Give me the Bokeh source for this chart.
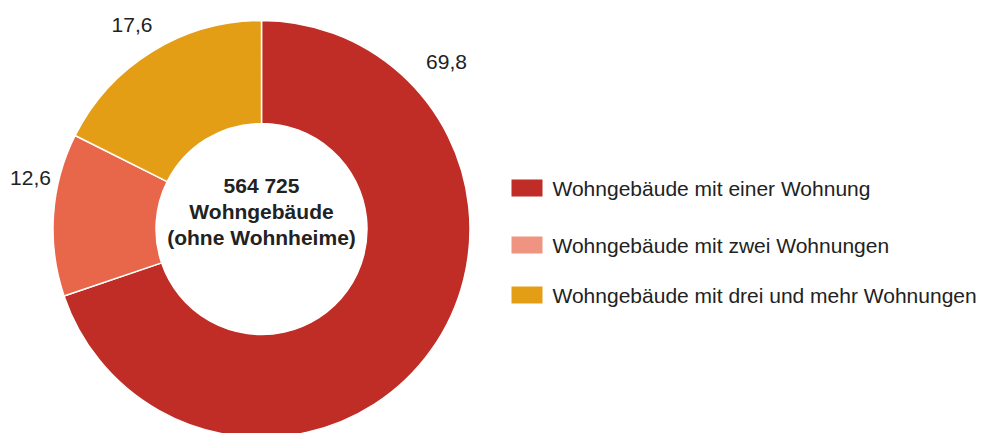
import math
from bokeh.plotting import figure
from bokeh.models import ColumnDataSource, Range1d
from bokeh.core.properties import value
from bokeh.embed import file_html
from bokeh.resources import INLINE

# ---- data ----
categories = ["Wohngebäude mit einer Wohnung",
              "Wohngebäude mit zwei Wohnungen",
              "Wohngebäude mit drei und mehr Wohnungen"]
shares = [69.8, 12.6, 17.6]
share_labels = ["69,8", "12,6", "17,6"]
center_lines = ["564 725", "Wohngebäude", "(ohne Wohnheime)"]

# ---- styles / layout ----
slice_colors = ["#BF2D26", "#E8674A", "#E39E16"]
legend_colors = ["#BF2D26", "#EF9480", "#E39E16"]
W, H = 985, 433
label_pos = [(446, H - 61.5), (30, H - 177), (131.5, H - 24.5)]
cx, cy = 261, H - 228.5
r_out, r_in = 208.5, 105.5
FONT = "Liberation Sans"
TXT = "#222222"

p = figure(width=W, height=H, output_backend="svg", toolbar_location=None,
           x_range=Range1d(0, W), y_range=Range1d(0, H), min_border=0)
p.axis.visible = False
p.grid.visible = False
p.outline_line_color = None
p.background_fill_color = "white"
p.border_fill_color = "white"

total = sum(shares)
starts, ends = [], []
cum = 0.0
for s in shares:
    starts.append(math.pi / 2 - cum / total * 2 * math.pi)
    cum += s
    ends.append(math.pi / 2 - cum / total * 2 * math.pi)

src = ColumnDataSource(dict(x=[cx] * 3, y=[cy] * 3, start=starts, end=ends,
                            color=slice_colors))
p.annular_wedge(x="x", y="y", inner_radius=r_in, outer_radius=r_out,
                start_angle="start", end_angle="end", direction="clock",
                fill_color="color", line_color="white", line_width=1.5,
                source=src)

# value labels
p.text(x=[q[0] for q in label_pos], y=[q[1] for q in label_pos], text=share_labels,
       text_font=value(FONT), text_font_size="21px", text_color=TXT,
       text_align="center", text_baseline="middle")

# center text
p.text(x=[cx] * 3, y=[H - 184.5, H - 210.5, H - 236.5], text=center_lines,
       text_font=value(FONT), text_font_size="21px", text_font_style="bold",
       text_color=TXT, text_align="center", text_baseline="alphabetic")

# legend
leg_y = [H - 187.5, H - 244.5, H - 294.5]
p.rect(x=[526.5] * 3, y=leg_y, width=31, height=17, fill_color=legend_colors,
       line_color=None)
p.text(x=[552] * 3, y=[yy - 0.5 for yy in leg_y], text=categories,
       text_font=value(FONT), text_font_size="21px", text_color=TXT,
       text_align="left", text_baseline="alphabetic")

open("out.html", "w").write(file_html(p, INLINE))
